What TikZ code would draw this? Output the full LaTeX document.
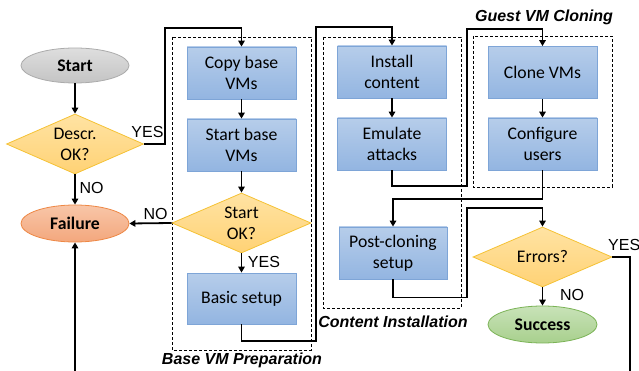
\documentclass[tikz,border=0pt]{standalone}
\usepackage{fontspec}
\setmainfont{Carlito}
\newfontfamily\arialf{Liberation Sans}
\usetikzlibrary{shapes.geometric,arrows.meta}
\definecolor{boxtop}{HTML}{B6CDEA}
\definecolor{boxbot}{HTML}{93B5E1}
\definecolor{boxline}{HTML}{7EA5D7}
\definecolor{diatop}{HTML}{FFE3A3}
\definecolor{diabot}{HTML}{FFD275}
\definecolor{dialine}{HTML}{F5C235}
\definecolor{failtop}{HTML}{F8C6A8}
\definecolor{failbot}{HTML}{F3A77D}
\definecolor{failline}{HTML}{EE8845}
\definecolor{succtop}{HTML}{C8E2B8}
\definecolor{succbot}{HTML}{A8D08D}
\definecolor{succline}{HTML}{7BB356}
\definecolor{starttop}{HTML}{DEDEDE}
\definecolor{startbot}{HTML}{C4C4C4}
\definecolor{startline}{HTML}{ABABAB}
\tikzset{
  txt/.style={font=\fontsize{17.7}{21.2}\selectfont, align=center, inner sep=0pt},
  stepbox/.style={txt, rectangle, draw=boxline, line width=0.8pt, top color=boxtop, bottom color=boxbot, minimum width=109pt, minimum height=52pt},
  dia/.style={diamond, draw=dialine, line width=0.8pt, top color=diatop, bottom color=diabot, minimum width=139pt, minimum height=60pt, inner sep=0pt},
  term/.style={txt, ellipse, line width=0.8pt, minimum width=108pt, minimum height=37pt, font=\fontsize{17.7}{21.2}\selectfont\bfseries},
  conn/.style={line width=1.8pt, -{Triangle[length=6pt,width=6.5pt]}},
  line/.style={line width=1.8pt},
  yn/.style={font=\arialf\fontsize{16}{19}\selectfont, inner sep=0pt},
  grp/.style={draw, line width=0.6pt, dash pattern=on 3pt off 2pt},
  grplbl/.style={font=\arialf\fontsize{16}{19}\selectfont\bfseries\itshape, inner sep=0pt}
}
\begin{document}
\begin{tikzpicture}[x=1pt,y=-1pt]
\useasboundingbox (0,0) rectangle (639,371);
\clip (0,0) rectangle (639,371);
% group boxes
\draw[grp] (172,37) rectangle (311,350);
\draw[grp] (323,37) rectangle (461,308);
\draw[grp] (473,36) rectangle (612,187);
\node[grplbl] (lg) at (544,17) {Guest VM Cloning};
\node[grplbl] (lc) at (393,322) {Content Installation};
\node[grplbl] (lb) at (242,360) {Base VM Preparation};
% terminals
\node[term, draw=startline, top color=starttop, bottom color=startbot, minimum height=35pt] (start) at (75,65.5) {Start};
\node[term, draw=failline, top color=failtop, bottom color=failbot] (fail) at (75,223.5) {Failure};
\node[term, draw=succline, top color=succtop, bottom color=succbot, minimum width=109pt] (succ) at (542.5,324.5) {Success};
% decisions
\node[dia, minimum width=137pt] (d1) at (75,144) {};
\node[txt] (d1t) at (d1) {Descr.\\OK?};
\node[dia] (d2) at (241.5,223) {};
\node[txt] (d2t) at (d2) {Start\\OK?};
\node[dia] (d3) at (542.5,257) {};
\node[txt] (d3t) at (d3) {Errors?};
% process boxes
\node[stepbox] (copy) at (241.5,73) {Copy base\\VMs};
\node[stepbox] (startb) at (241.5,145) {Start base\\VMs};
\node[stepbox, minimum height=51pt] (basic) at (241.5,298.5) {Basic setup};
\node[stepbox] (inst) at (392,72) {Install\\content};
\node[stepbox] (emul) at (392,144) {Emulate\\attacks};
\node[stepbox] (clone) at (542.5,72.5) {Clone VMs};
\node[stepbox] (conf) at (542.5,144) {Configure\\users};
\node[stepbox, minimum width=108pt] (post) at (393,253) {Post-cloning\\setup};
% off-picture ends
\coordinate (fb) at (75,385);
\coordinate (eb) at (630,385);
% connectors
\draw[conn] (start) -- (d1);
\draw[conn] (d1.east) -| (165,28) -| (copy.north);
\draw[conn] (d1.south) -- (fail.north);
\draw[conn] (copy) -- (startb);
\draw[conn] (startb) -- (d2.north);
\draw[conn] (d2.west) -- (fail.east);
\draw[conn] (d2.south) -- (basic.north);
\draw[conn] (basic.south) |- (316,341) -- (316,27) -| (inst.north);
\draw[conn] (inst) -- (emul);
\draw[conn] (emul.south) |- (467,186) -- (467,29) -| (clone.north);
\draw[conn] (clone) -- (conf);
\draw[conn] (conf.south) -- ++(0,29) -| (post.north);
\draw[conn] (post.south) -- ++(0,18) -| (467,208) -| (d3.north);
\draw[line] (d3.east) -| (eb);
\draw[conn] (d3.south) -- (succ.north);
\draw[conn] (fb) -- (fail.south);
% labels
\node[yn] (y1) at (147.5,131.5) {YES};
\node[yn] (n1) at (91.5,188) {NO};
\node[yn] (n2) at (155.5,213.5) {NO};
\node[yn] (y2) at (264,261.5) {YES};
\node[yn] (n3) at (572,295) {NO};
\node[yn, anchor=west] (y3) at (608,244.5) {YES};
\end{tikzpicture}
\end{document}
